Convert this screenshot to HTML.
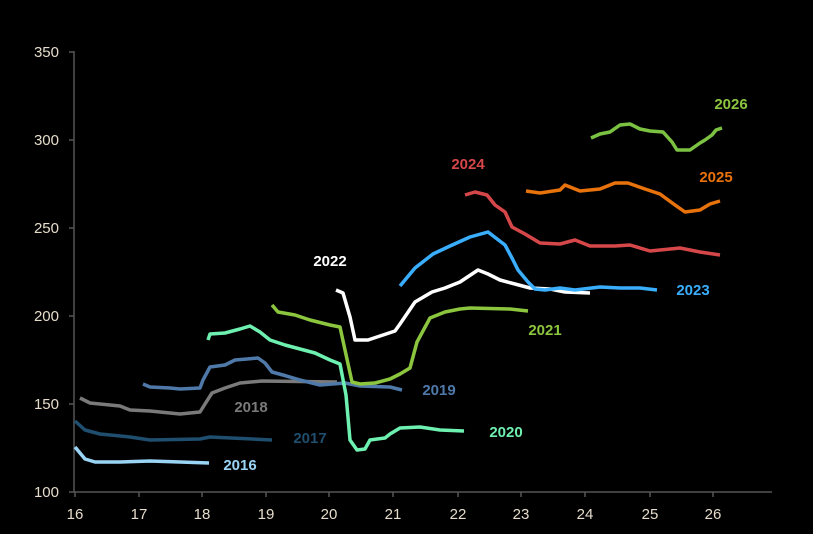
<!DOCTYPE html><html><head><style>body{margin:0;background:#000}</style></head><body>
<svg width="813" height="534" viewBox="0 0 813 534" xmlns="http://www.w3.org/2000/svg" style="display:block;background:#000;font-family:'Liberation Sans',sans-serif">
<g stroke="#555" stroke-width="1.5" fill="none">
<path d="M74,51V492H772"/>
<path d="M69,52H74M69,140H74M69,228H74M69,316H74M69,404H74M69,492H74"/>
<path d="M75,492v5M139,492v5M202,492v5M266,492v5M329,492v5M393,492v5M458,492v5M521,492v5M585,492v5M650,492v5M713,492v5"/>
</g>
<g fill="#e6dccb" font-size="15" text-anchor="end">
<text x="59" y="57">350</text><text x="59" y="145">300</text><text x="59" y="233">250</text><text x="59" y="321">200</text><text x="59" y="409">150</text><text x="59" y="497">100</text>
</g>
<g fill="#e6dccb" font-size="15" text-anchor="middle">
<text x="75" y="519">16</text><text x="139" y="519">17</text><text x="202" y="519">18</text><text x="266" y="519">19</text><text x="329" y="519">20</text><text x="393" y="519">21</text><text x="458" y="519">22</text><text x="521" y="519">23</text><text x="585" y="519">24</text><text x="650" y="519">25</text><text x="713" y="519">26</text>
</g>
<g fill="none" stroke-width="3.5" stroke-linejoin="round">
<polyline stroke="#9ad4f5" points="75,447 85,459 95,462 120,462 150,461 180,462 209,463"/>
<polyline stroke="#1f4e6e" points="75,421 85,430 100,434 130,437 150,440 200,439 210,437 272,440"/>
<polyline stroke="#7a7a7a" points="80,398 90,403 120,406 130,410 150,411 180,414 200,412 205,404 212,393 225,388 240,383 262,381 337,382"/>
<polyline stroke="#4f79a8" points="143,384 150,387 170,388 180,389 200,388 203,380 210,367 225,365 235,360 247,359 258,358 265,363 272,372 283,375 300,380 320,385 345,383 360,386 390,387 402,390"/>
<polyline stroke="#6ef0b0" points="208,340 210,334 225,333 240,329 250,326 260,332 270,340 285,345 300,349 315,353 330,360 340,364 346,395 350,440 357,450 365,449 370,440 385,438 390,434 400,428 420,427 440,430 464,431"/>
<polyline stroke="#8cc63f" points="272,305 278,312 295,315 310,320 330,325 340,327 345,350 352,382 360,384 375,383 390,379 400,374 410,368 417,342 430,318 445,312 460,309 470,308 510,309 528,311"/>
<polyline stroke="#ffffff" points="336,290 343,293 350,317 355,340 368,340 380,336 395,331 400,324 415,302 432,292 445,288 460,282 478,270 488,274 500,280 515,284 530,288 550,289 565,292 590,293"/>
<polyline stroke="#3aaefc" points="400,286 415,268 433,254 450,246 470,237 488,232 505,245 512,258 518,270 528,282 535,289 545,290 560,288 575,290 600,287 620,288 640,288 657,290"/>
<polyline stroke="#d6474a" points="465,195 475,192 487,195 495,205 505,212 512,227 525,234 540,243 560,244 575,240 590,246 615,246 630,245 650,251 680,248 700,252 720,255"/>
<polyline stroke="#e8720c" points="526,191 540,193 560,190 565,185 580,191 600,189 615,183 628,183 645,189 660,194 675,205 685,212 700,210 710,204 720,201"/>
<polyline stroke="#7cc242" points="591,138 600,134 610,132 620,125 630,124 640,129 650,131 663,132 672,142 677,150 690,150 700,143 705,140 712,135 716,130 722,128"/>
</g>
<g font-size="15" font-weight="bold" text-anchor="middle">
<text x="731" y="109" fill="#8cc63f">2026</text>
<text x="716" y="182" fill="#e8720c">2025</text>
<text x="468" y="169" fill="#d6474a">2024</text>
<text x="693" y="295" fill="#3aaefc">2023</text>
<text x="330" y="266" fill="#ffffff">2022</text>
<text x="545" y="335" fill="#8cc63f">2021</text>
<text x="506" y="437" fill="#6ef0b0">2020</text>
<text x="439" y="395" fill="#4f79a8">2019</text>
<text x="251" y="412" fill="#7a7a7a">2018</text>
<text x="310" y="443" fill="#1f4e6e">2017</text>
<text x="240" y="470" fill="#9ad4f5">2016</text>
</g>
</svg>
</body></html>
